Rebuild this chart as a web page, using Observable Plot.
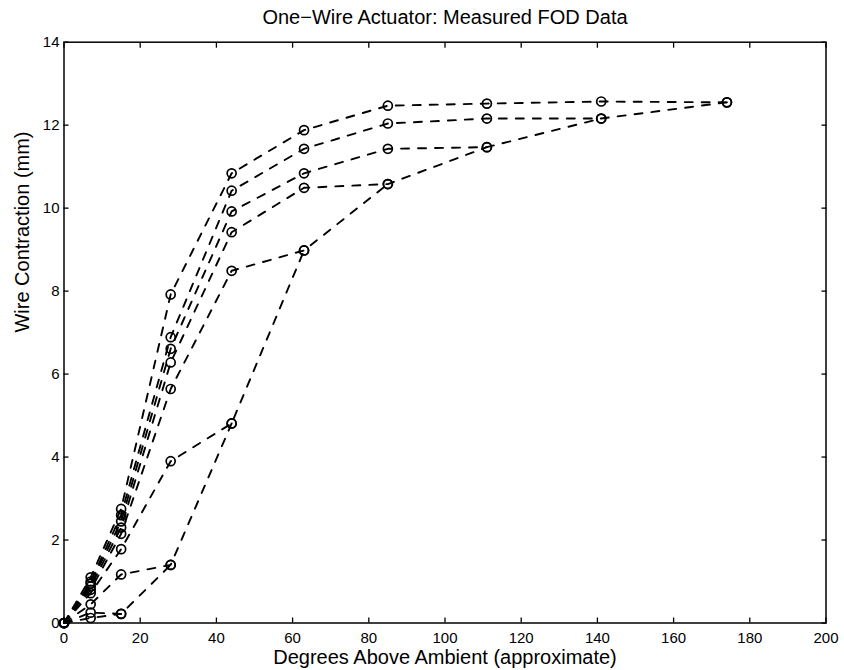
<!DOCTYPE html>
<html><head><meta charset="utf-8">
<script src="https://cdn.jsdelivr.net/npm/d3@7"></script>
<script src="https://cdn.jsdelivr.net/npm/@observablehq/plot@0.6"></script>
<style>body{margin:0;background:#fff}</style>
</head><body><div id="chart"></div>
<script>
const title = "One\u2212Wire Actuator: Measured FOD Data";
const xLabel = "Degrees Above Ambient (approximate)";
const yLabel = "Wire Contraction (mm)";

// temperature steps (degrees above ambient)
const temps = [0, 7, 15, 28, 44, 63, 85, 111, 141, 174];
// contraction runs (mm); each run ends where it meets the slower run
const run0 = [0, 1.10, 2.75, 7.92, 10.84, 11.88, 12.47, 12.52, 12.57, 12.55];
const run1 = [0, 1.00, 2.60, 6.89, 10.42, 11.43, 12.04, 12.16, 12.16, 12.55];
const run2 = [0, 0.95, 2.45, 6.61, 9.92, 10.84, 11.43, 11.47, 12.16];
const run3 = [0, 0.88, 2.30, 6.28, 9.42, 10.49, 10.58, 11.47];
const run4 = [0, 0.80, 2.15, 5.64, 8.49, 8.98, 10.58];
const run5 = [0, 0.72, 1.78, 3.90, 4.81, 8.98];
const run6 = [0, 0.45, 1.17, 1.40, 4.81];
const run7 = [0, 0.25, 0.22, 1.40];
const run8 = [0, 0.12, 0.22];
const runs = [run0, run1, run2, run3, run4, run5, run6, run7, run8];

const xTicks = [0, 20, 40, 60, 80, 100, 120, 140, 160, 180, 200];
const yTicks = [0, 2, 4, 6, 8, 10, 12, 14];

const data = runs.flatMap((ys, k) => ys.map((y, i) => ({run: k, x: temps[i], y})));

const chart = Plot.plot({
  width: 844, height: 670,
  marginLeft: 63.5, marginRight: 18.5, marginTop: 41.7, marginBottom: 47.5,
  x: {domain: [0, 200]},
  y: {domain: [0, 14]},
  style: {fontFamily: "'Liberation Sans', Arial, sans-serif", fontSize: "15px", color: "#000", background: "#fff", overflow: "visible"},
  marks: [
    Plot.frame({stroke: "#000", strokeWidth: 1.5}),
    Plot.axisX(xTicks, {anchor: "bottom", tickSize: -5, strokeWidth: 1.3, label: null, stroke: "#000", textStroke: null}),
    Plot.axisX(xTicks, {anchor: "top", tickSize: -5, strokeWidth: 1.3, tickFormat: () => "", label: null}),
    Plot.axisY(yTicks, {anchor: "left", tickSize: -5, tickPadding: 9.5, strokeWidth: 1.3, label: null}),
    Plot.axisY(yTicks, {anchor: "right", tickSize: -5, strokeWidth: 1.3, tickFormat: () => "", label: null}),
    Plot.line(data, {x: "x", y: "y", z: "run", stroke: "#000", strokeWidth: 1.9, strokeDasharray: "8,9"}),
    Plot.dot(data, {x: "x", y: "y", r: 4.5, stroke: "#000", strokeWidth: 1.7, fill: "none"}),
    Plot.text([title], {frameAnchor: "top", dy: -24.7, lineAnchor: "middle", fontSize: 20}),
    Plot.text([xLabel], {frameAnchor: "bottom", dy: 34.5, lineAnchor: "middle", fontSize: 20}),
    Plot.text([yLabel], {frameAnchor: "left", dx: -41.5, lineAnchor: "middle", rotate: -90, fontSize: 20})
  ]
});
document.getElementById("chart").appendChild(chart);
</script>
</body></html>
